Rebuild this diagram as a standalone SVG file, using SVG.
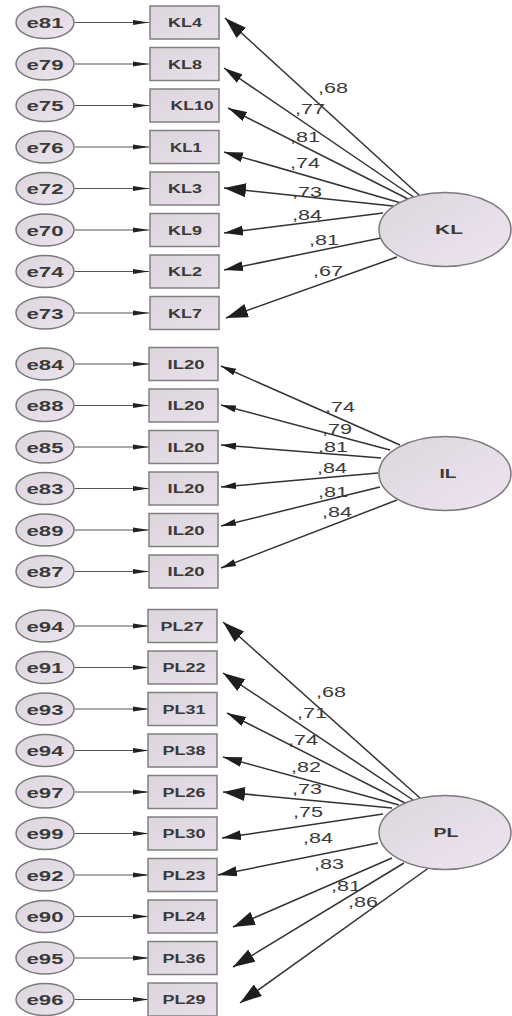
<svg xmlns="http://www.w3.org/2000/svg" width="512" height="1016" viewBox="0 0 512 1016">
<style>
.err ellipse{fill:url(#eg);stroke:#7a7a7a;stroke-width:1.5}
.lat ellipse{fill:url(#lg);stroke:#7a7a7a;stroke-width:1.5}
.obs rect{fill:url(#rg);stroke:#808080;stroke-width:1.5}
.et{font-family:"Liberation Sans",Arial,sans-serif;font-weight:bold;font-size:15px;fill:#3a3a3a;text-anchor:middle}
.ot{font-family:"Liberation Sans",Arial,sans-serif;font-weight:bold;font-size:12px;fill:#3a3a3a;text-anchor:middle}
.lt{font-family:"Liberation Sans",Arial,sans-serif;font-weight:bold;font-size:12px;fill:#3a3a3a;text-anchor:middle}
.wt{font-family:"Liberation Sans",Arial,sans-serif;font-size:15px;fill:#3a3a3a;text-anchor:middle}
.e2o{stroke:#555;stroke-width:1.2;fill:none;marker-end:url(#ms)}
.ld{stroke:#333;stroke-width:1.5;fill:none}
.big{marker-end:url(#mb)}
.mid{marker-end:url(#mm)}
.sml{marker-end:url(#mi)}
</style>
<defs>
<linearGradient id="eg" x1="0" y1="0" x2="1" y2="1"><stop offset="0" stop-color="#dcd5dc"/><stop offset="1" stop-color="#ece4ef"/></linearGradient>
<linearGradient id="lg" x1="0" y1="0" x2="1" y2="1"><stop offset="0" stop-color="#dcd6dc"/><stop offset="1" stop-color="#eee4f2"/></linearGradient>
<linearGradient id="rg" x1="0" y1="0" x2="1" y2="1"><stop offset="0" stop-color="#dcd5dc"/><stop offset="1" stop-color="#e8e0ea"/></linearGradient>
<marker id="ms" markerUnits="userSpaceOnUse" markerWidth="16" markerHeight="6" refX="16" refY="3" orient="auto"><path d="M0,0.5 L16,3 L0,5.5 z" fill="#222"/></marker>
<marker id="mb" markerUnits="userSpaceOnUse" markerWidth="22" markerHeight="14" refX="22" refY="7" orient="auto"><path d="M0,0 L22,7 L0,14 z" fill="#1e1e1e"/></marker>
<marker id="mm" markerUnits="userSpaceOnUse" markerWidth="19" markerHeight="10" refX="19" refY="5" orient="auto"><path d="M0,0 L19,5 L0,10 z" fill="#1e1e1e"/></marker>
<marker id="mi" markerUnits="userSpaceOnUse" markerWidth="15" markerHeight="8" refX="15" refY="4" orient="auto"><path d="M0,0.5 L15,4 L0,7.5 z" fill="#1e1e1e"/></marker>
</defs>
<rect width="512" height="1016" fill="#fff"/>

<g id="connectors">
<!-- error to observed -->
<line class="e2o" x1="75" y1="22.5" x2="149" y2="22.5"/>
<line class="e2o" x1="75" y1="64" x2="149" y2="64"/>
<line class="e2o" x1="75" y1="105.5" x2="149" y2="105.5"/>
<line class="e2o" x1="75" y1="147" x2="149" y2="147"/>
<line class="e2o" x1="75" y1="188.5" x2="149" y2="188.5"/>
<line class="e2o" x1="75" y1="230" x2="149" y2="230"/>
<line class="e2o" x1="75" y1="271.5" x2="149" y2="271.5"/>
<line class="e2o" x1="75" y1="313" x2="149" y2="313"/>
<line class="e2o" x1="75" y1="364" x2="149" y2="364"/>
<line class="e2o" x1="75" y1="405.5" x2="149" y2="405.5"/>
<line class="e2o" x1="75" y1="447" x2="149" y2="447"/>
<line class="e2o" x1="75" y1="488.5" x2="149" y2="488.5"/>
<line class="e2o" x1="75" y1="530" x2="149" y2="530"/>
<line class="e2o" x1="75" y1="571.5" x2="149" y2="571.5"/>
<line class="e2o" x1="75" y1="626" x2="149" y2="626"/>
<line class="e2o" x1="75" y1="667.5" x2="149" y2="667.5"/>
<line class="e2o" x1="75" y1="709" x2="149" y2="709"/>
<line class="e2o" x1="75" y1="750.5" x2="149" y2="750.5"/>
<line class="e2o" x1="75" y1="792" x2="149" y2="792"/>
<line class="e2o" x1="75" y1="833.5" x2="149" y2="833.5"/>
<line class="e2o" x1="75" y1="875" x2="149" y2="875"/>
<line class="e2o" x1="75" y1="916.5" x2="149" y2="916.5"/>
<line class="e2o" x1="75" y1="958" x2="149" y2="958"/>
<line class="e2o" x1="75" y1="999.5" x2="149" y2="999.5"/>
<!-- KL loadings -->
<line class="ld big" x1="420" y1="196" x2="225" y2="18"/>
<line class="ld mid" x1="415" y1="198" x2="224" y2="68"/>
<line class="ld mid" x1="410" y1="200" x2="228" y2="108"/>
<line class="ld mid" x1="401" y1="203" x2="224" y2="152"/>
<line class="ld big" x1="393" y1="206" x2="224" y2="188"/>
<line class="ld mid" x1="383" y1="213" x2="224" y2="233"/>
<line class="ld mid" x1="381" y1="238" x2="224" y2="270"/>
<line class="ld big" x1="397" y1="257" x2="226" y2="318"/>
<!-- IL loadings -->
<line class="ld sml" x1="400" y1="445" x2="221" y2="366"/>
<line class="ld sml" x1="390" y1="450" x2="221" y2="405"/>
<line class="ld sml" x1="381" y1="458" x2="221" y2="445"/>
<line class="ld sml" x1="378" y1="473" x2="221" y2="487"/>
<line class="ld sml" x1="380" y1="487" x2="221" y2="526"/>
<line class="ld sml" x1="397" y1="500" x2="221" y2="568"/>
<!-- PL loadings -->
<line class="ld big" x1="420" y1="798" x2="223" y2="622"/>
<line class="ld big" x1="413" y1="800" x2="223" y2="673"/>
<line class="ld mid" x1="405" y1="803" x2="227" y2="713"/>
<line class="ld mid" x1="399" y1="805" x2="223" y2="757"/>
<line class="ld big" x1="392" y1="808" x2="223" y2="792"/>
<line class="ld mid" x1="383" y1="814" x2="222" y2="838"/>
<line class="ld mid" x1="378" y1="843" x2="218" y2="875"/>
<line class="ld big" x1="392" y1="858" x2="233" y2="927"/>
<line class="ld big" x1="404" y1="863" x2="233" y2="967"/>
<line class="ld big" x1="430" y1="867" x2="240" y2="1003"/>
</g>

<g id="loadings">
<text class="wt" x="333" y="93" textLength="30" lengthAdjust="spacingAndGlyphs">,68</text>
<text class="wt" x="310" y="114" textLength="30" lengthAdjust="spacingAndGlyphs">,77</text>
<text class="wt" x="305" y="142" textLength="30" lengthAdjust="spacingAndGlyphs">,81</text>
<text class="wt" x="305" y="168" textLength="30" lengthAdjust="spacingAndGlyphs">,74</text>
<text class="wt" x="307" y="197" textLength="30" lengthAdjust="spacingAndGlyphs">,73</text>
<text class="wt" x="307" y="220" textLength="30" lengthAdjust="spacingAndGlyphs">,84</text>
<text class="wt" x="324" y="245" textLength="30" lengthAdjust="spacingAndGlyphs">,81</text>
<text class="wt" x="328" y="276" textLength="30" lengthAdjust="spacingAndGlyphs">,67</text>

<text class="wt" x="340" y="412" textLength="30" lengthAdjust="spacingAndGlyphs">,74</text>
<text class="wt" x="337" y="434" textLength="30" lengthAdjust="spacingAndGlyphs">,79</text>
<text class="wt" x="333" y="452" textLength="30" lengthAdjust="spacingAndGlyphs">,81</text>
<text class="wt" x="332" y="473" textLength="30" lengthAdjust="spacingAndGlyphs">,84</text>
<text class="wt" x="333" y="497" textLength="30" lengthAdjust="spacingAndGlyphs">,81</text>
<text class="wt" x="337" y="517" textLength="30" lengthAdjust="spacingAndGlyphs">,84</text>

<text class="wt" x="331" y="697" textLength="30" lengthAdjust="spacingAndGlyphs">,68</text>
<text class="wt" x="312" y="718" textLength="30" lengthAdjust="spacingAndGlyphs">,71</text>
<text class="wt" x="303" y="745" textLength="30" lengthAdjust="spacingAndGlyphs">,74</text>
<text class="wt" x="306" y="772" textLength="30" lengthAdjust="spacingAndGlyphs">,82</text>
<text class="wt" x="307" y="794" textLength="30" lengthAdjust="spacingAndGlyphs">,73</text>
<text class="wt" x="308" y="817" textLength="30" lengthAdjust="spacingAndGlyphs">,75</text>
<text class="wt" x="318" y="843" textLength="30" lengthAdjust="spacingAndGlyphs">,84</text>
<text class="wt" x="329" y="869" textLength="30" lengthAdjust="spacingAndGlyphs">,83</text>
<text class="wt" x="346" y="891" textLength="30" lengthAdjust="spacingAndGlyphs">,81</text>
<text class="wt" x="363" y="907" textLength="30" lengthAdjust="spacingAndGlyphs">,86</text>
</g>

<!-- error nodes -->
<g id="e81" class="err"><ellipse cx="45" cy="22.5" rx="29" ry="16"/><text class="et" x="45" y="28" textLength="37" lengthAdjust="spacingAndGlyphs">e81</text></g>
<g id="e79" class="err"><ellipse cx="45" cy="64" rx="29" ry="16"/><text class="et" x="45" y="69.5" textLength="37" lengthAdjust="spacingAndGlyphs">e79</text></g>
<g id="e75" class="err"><ellipse cx="45" cy="105.5" rx="29" ry="16"/><text class="et" x="45" y="111" textLength="37" lengthAdjust="spacingAndGlyphs">e75</text></g>
<g id="e76" class="err"><ellipse cx="45" cy="147" rx="29" ry="16"/><text class="et" x="45" y="152.5" textLength="37" lengthAdjust="spacingAndGlyphs">e76</text></g>
<g id="e72" class="err"><ellipse cx="45" cy="188.5" rx="29" ry="16"/><text class="et" x="45" y="194" textLength="37" lengthAdjust="spacingAndGlyphs">e72</text></g>
<g id="e70" class="err"><ellipse cx="45" cy="230" rx="29" ry="16"/><text class="et" x="45" y="235.5" textLength="37" lengthAdjust="spacingAndGlyphs">e70</text></g>
<g id="e74" class="err"><ellipse cx="45" cy="271.5" rx="29" ry="16"/><text class="et" x="45" y="277" textLength="37" lengthAdjust="spacingAndGlyphs">e74</text></g>
<g id="e73" class="err"><ellipse cx="45" cy="313" rx="29" ry="16"/><text class="et" x="45" y="318.5" textLength="37" lengthAdjust="spacingAndGlyphs">e73</text></g>
<g id="e84" class="err"><ellipse cx="45" cy="364" rx="29" ry="16"/><text class="et" x="45" y="369.5" textLength="37" lengthAdjust="spacingAndGlyphs">e84</text></g>
<g id="e88" class="err"><ellipse cx="45" cy="405.5" rx="29" ry="16"/><text class="et" x="45" y="411" textLength="37" lengthAdjust="spacingAndGlyphs">e88</text></g>
<g id="e85" class="err"><ellipse cx="45" cy="447" rx="29" ry="16"/><text class="et" x="45" y="452.5" textLength="37" lengthAdjust="spacingAndGlyphs">e85</text></g>
<g id="e83" class="err"><ellipse cx="45" cy="488.5" rx="29" ry="16"/><text class="et" x="45" y="494" textLength="37" lengthAdjust="spacingAndGlyphs">e83</text></g>
<g id="e89" class="err"><ellipse cx="45" cy="530" rx="29" ry="16"/><text class="et" x="45" y="535.5" textLength="37" lengthAdjust="spacingAndGlyphs">e89</text></g>
<g id="e87" class="err"><ellipse cx="45" cy="571.5" rx="29" ry="16"/><text class="et" x="45" y="577" textLength="37" lengthAdjust="spacingAndGlyphs">e87</text></g>
<g id="e94a" class="err"><ellipse cx="45" cy="626" rx="29" ry="16"/><text class="et" x="45" y="631.5" textLength="37" lengthAdjust="spacingAndGlyphs">e94</text></g>
<g id="e91" class="err"><ellipse cx="45" cy="667.5" rx="29" ry="16"/><text class="et" x="45" y="673" textLength="37" lengthAdjust="spacingAndGlyphs">e91</text></g>
<g id="e93" class="err"><ellipse cx="45" cy="709" rx="29" ry="16"/><text class="et" x="45" y="714.5" textLength="37" lengthAdjust="spacingAndGlyphs">e93</text></g>
<g id="e94b" class="err"><ellipse cx="45" cy="750.5" rx="29" ry="16"/><text class="et" x="45" y="756" textLength="37" lengthAdjust="spacingAndGlyphs">e94</text></g>
<g id="e97" class="err"><ellipse cx="45" cy="792" rx="29" ry="16"/><text class="et" x="45" y="797.5" textLength="37" lengthAdjust="spacingAndGlyphs">e97</text></g>
<g id="e99" class="err"><ellipse cx="45" cy="833.5" rx="29" ry="16"/><text class="et" x="45" y="839" textLength="37" lengthAdjust="spacingAndGlyphs">e99</text></g>
<g id="e92" class="err"><ellipse cx="45" cy="875" rx="29" ry="16"/><text class="et" x="45" y="880.5" textLength="37" lengthAdjust="spacingAndGlyphs">e92</text></g>
<g id="e90" class="err"><ellipse cx="45" cy="916.5" rx="29" ry="16"/><text class="et" x="45" y="922" textLength="37" lengthAdjust="spacingAndGlyphs">e90</text></g>
<g id="e95" class="err"><ellipse cx="45" cy="958" rx="29" ry="16"/><text class="et" x="45" y="963.5" textLength="37" lengthAdjust="spacingAndGlyphs">e95</text></g>
<g id="e96" class="err"><ellipse cx="45" cy="999.5" rx="29" ry="16"/><text class="et" x="45" y="1005" textLength="37" lengthAdjust="spacingAndGlyphs">e96</text></g>

<!-- observed nodes -->
<g id="KL4" class="obs"><rect x="150" y="6" width="69" height="33"/><text class="ot" x="185" y="27" textLength="34" lengthAdjust="spacingAndGlyphs">KL4</text></g>
<g id="KL8" class="obs"><rect x="150" y="47.5" width="69" height="33"/><text class="ot" x="185" y="68.5" textLength="34" lengthAdjust="spacingAndGlyphs">KL8</text></g>
<g id="KL10" class="obs"><rect x="150" y="89" width="69" height="33"/><text class="ot" x="192" y="110" textLength="43" lengthAdjust="spacingAndGlyphs">KL10</text></g>
<g id="KL1" class="obs"><rect x="150" y="130.5" width="69" height="33"/><text class="ot" x="186" y="151.5" textLength="32" lengthAdjust="spacingAndGlyphs">KL1</text></g>
<g id="KL3" class="obs"><rect x="150" y="172" width="69" height="33"/><text class="ot" x="185" y="193" textLength="34" lengthAdjust="spacingAndGlyphs">KL3</text></g>
<g id="KL9" class="obs"><rect x="150" y="213.5" width="69" height="33"/><text class="ot" x="185" y="234.5" textLength="34" lengthAdjust="spacingAndGlyphs">KL9</text></g>
<g id="KL2" class="obs"><rect x="150" y="255" width="69" height="33"/><text class="ot" x="185" y="276" textLength="34" lengthAdjust="spacingAndGlyphs">KL2</text></g>
<g id="KL7" class="obs"><rect x="150" y="296.5" width="69" height="33"/><text class="ot" x="185" y="317.5" textLength="34" lengthAdjust="spacingAndGlyphs">KL7</text></g>

<g id="IL20a" class="obs"><rect x="149" y="347.5" width="69" height="33"/><text class="ot" x="186" y="368.5" textLength="37" lengthAdjust="spacingAndGlyphs">IL20</text></g>
<g id="IL20b" class="obs"><rect x="149" y="389" width="69" height="33"/><text class="ot" x="186" y="410" textLength="37" lengthAdjust="spacingAndGlyphs">IL20</text></g>
<g id="IL20c" class="obs"><rect x="149" y="430.5" width="69" height="33"/><text class="ot" x="186" y="451.5" textLength="37" lengthAdjust="spacingAndGlyphs">IL20</text></g>
<g id="IL20d" class="obs"><rect x="149" y="472" width="69" height="33"/><text class="ot" x="186" y="493" textLength="37" lengthAdjust="spacingAndGlyphs">IL20</text></g>
<g id="IL20e" class="obs"><rect x="149" y="513.5" width="69" height="33"/><text class="ot" x="186" y="534.5" textLength="37" lengthAdjust="spacingAndGlyphs">IL20</text></g>
<g id="IL20f" class="obs"><rect x="149" y="555" width="69" height="33"/><text class="ot" x="186" y="576" textLength="37" lengthAdjust="spacingAndGlyphs">IL20</text></g>

<g id="PL27" class="obs"><rect x="148" y="609.5" width="69" height="33"/><text class="ot" x="182" y="630.5" textLength="43" lengthAdjust="spacingAndGlyphs">PL27</text></g>
<g id="PL22" class="obs"><rect x="148" y="651" width="69" height="33"/><text class="ot" x="184" y="672" textLength="43" lengthAdjust="spacingAndGlyphs">PL22</text></g>
<g id="PL31" class="obs"><rect x="148" y="692.5" width="69" height="33"/><text class="ot" x="184" y="713.5" textLength="43" lengthAdjust="spacingAndGlyphs">PL31</text></g>
<g id="PL38" class="obs"><rect x="148" y="734" width="69" height="33"/><text class="ot" x="184" y="755" textLength="43" lengthAdjust="spacingAndGlyphs">PL38</text></g>
<g id="PL26" class="obs"><rect x="148" y="775.5" width="69" height="33"/><text class="ot" x="184" y="796.5" textLength="43" lengthAdjust="spacingAndGlyphs">PL26</text></g>
<g id="PL30" class="obs"><rect x="148" y="817" width="69" height="33"/><text class="ot" x="184" y="838" textLength="43" lengthAdjust="spacingAndGlyphs">PL30</text></g>
<g id="PL23" class="obs"><rect x="148" y="858.5" width="69" height="33"/><text class="ot" x="184" y="879.5" textLength="43" lengthAdjust="spacingAndGlyphs">PL23</text></g>
<g id="PL24" class="obs"><rect x="148" y="900" width="69" height="33"/><text class="ot" x="184" y="921" textLength="43" lengthAdjust="spacingAndGlyphs">PL24</text></g>
<g id="PL36" class="obs"><rect x="148" y="941.5" width="69" height="33"/><text class="ot" x="184" y="962.5" textLength="43" lengthAdjust="spacingAndGlyphs">PL36</text></g>
<g id="PL29" class="obs"><rect x="148" y="983" width="69" height="33"/><text class="ot" x="184" y="1004" textLength="43" lengthAdjust="spacingAndGlyphs">PL29</text></g>

<!-- latent nodes -->
<g id="KL" class="lat"><ellipse cx="445" cy="229.5" rx="66" ry="37"/><text class="lt" x="449" y="234" textLength="28" lengthAdjust="spacingAndGlyphs">KL</text></g>
<g id="IL" class="lat"><ellipse cx="445" cy="473.5" rx="66" ry="37"/><text class="lt" x="448" y="478" textLength="17" lengthAdjust="spacingAndGlyphs">IL</text></g>
<g id="PL" class="lat"><ellipse cx="445" cy="832.5" rx="66" ry="37"/><text class="lt" x="446" y="837" textLength="25" lengthAdjust="spacingAndGlyphs">PL</text></g>
</svg>
